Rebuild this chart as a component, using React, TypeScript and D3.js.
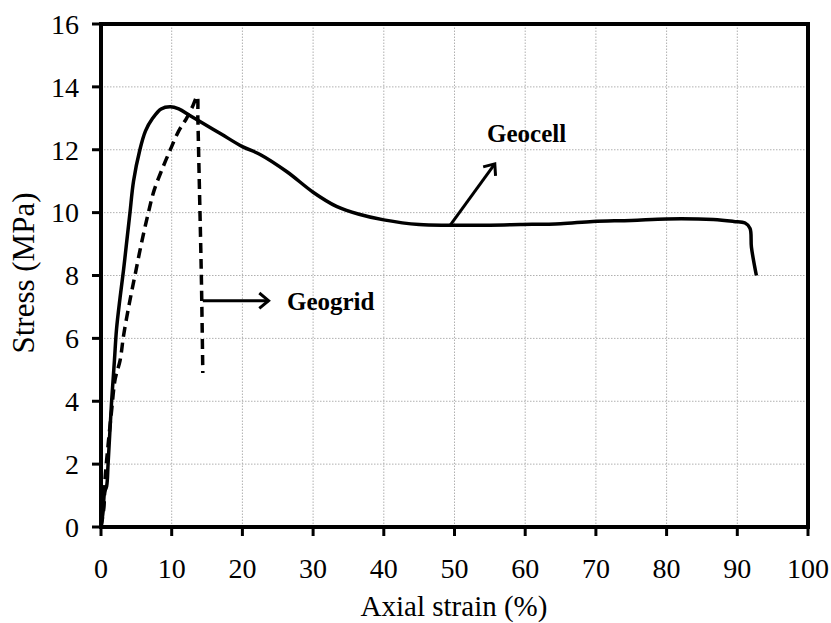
import React from 'react';
import * as d3 from 'd3';

// Geocell (solid line)
const geocellStrain = [0, 0.3, 0.5, 0.8, 1.0, 1.5, 1.9, 2.2, 2.7, 3.2, 3.6, 4.1, 4.6, 5.5, 6.3, 7.3, 8.5, 9.8, 11.0, 12.5, 14.0, 17.0, 20.0, 22.5, 26.3, 30.0, 33.3, 36.5, 40.0, 45.0, 49.4, 55.0, 59.3, 65.0, 69.6, 75.0, 80.0, 86.6, 89.5, 91.1, 91.8, 92.0, 92.7];
const geocellStress = [0, 0.5, 1.1, 1.3, 2.0, 4.0, 5.3, 6.3, 7.3, 8.2, 9.0, 10.0, 11.0, 12.0, 12.6, 13.0, 13.3, 13.37, 13.3, 13.1, 12.9, 12.5, 12.1, 11.85, 11.3, 10.65, 10.2, 9.95, 9.77, 9.62, 9.6, 9.6, 9.62, 9.65, 9.72, 9.75, 9.8, 9.78, 9.72, 9.67, 9.5, 8.9, 8.0];

// Geogrid (dashed line)
const geogridStrain = [0, 0.4, 0.6, 1.0, 1.5, 2.0, 2.7, 3.2, 4.0, 4.8, 5.7, 6.7, 7.5, 8.5, 9.8, 11.0, 12.1, 13.0, 13.6, 13.7, 13.8, 13.9, 14.0, 14.1, 14.2, 14.3, 14.4];
const geogridStress = [0, 0.6, 1.6, 2.6, 3.7, 4.7, 5.3, 6.1, 7.1, 8.0, 9.0, 10.0, 10.7, 11.3, 12.0, 12.6, 13.0, 13.4, 13.7, 13.0, 12.0, 11.0, 10.0, 9.0, 7.9, 6.5, 4.9];

const xTicks = [0, 10, 20, 30, 40, 50, 60, 70, 80, 90, 100];
const yTicks = [0, 2, 4, 6, 8, 10, 12, 14, 16];

const W = 831;
const H = 623;
const margin = { top: 24, right: 23, bottom: 96, left: 101 };
const font = '"Liberation Serif", "Times New Roman", serif';

const x = d3.scaleLinear().domain([0, 100]).range([margin.left, W - margin.right]);
const y = d3.scaleLinear().domain([0, 16]).range([H - margin.bottom, margin.top]);

const line = d3.line<[number, number]>()
  .curve(d3.curveCatmullRom.alpha(0.5))
  .x(d => x(d[0]))
  .y(d => y(d[1]));

const zip = (a: number[], b: number[]) => a.map((v, i) => [v, b[i]] as [number, number]);

// open chevron arrow from (x1,y1) to (x2,y2) in data units
const Arrow = ({ from, to }: { from: [number, number]; to: [number, number] }) => {
  const x1 = x(from[0]), y1 = y(from[1]), x2 = x(to[0]), y2 = y(to[1]);
  const ang = Math.atan2(y2 - y1, x2 - x1);
  const len = 12;
  const a1 = ang + Math.PI * 0.78, a2 = ang - Math.PI * 0.78;
  const head = `M${x2 + len * Math.cos(a1)},${y2 + len * Math.sin(a1)}L${x2},${y2}L${x2 + len * Math.cos(a2)},${y2 + len * Math.sin(a2)}`;
  return (
    <g stroke="#000" strokeWidth={3} fill="none">
      <line x1={x1} y1={y1} x2={x2} y2={y2} />
      <path d={head} />
    </g>
  );
};

export default function App() {
  const x0 = x(0), x1 = x(100), y0 = y(0), y1 = y(16);
  return (
    <svg width={W} height={H} style={{ position: 'absolute', left: 0, top: 0, background: '#fff' }}>
      {/* grid */}
      <g stroke="#b0b0b0" strokeWidth={1} strokeDasharray="1.5,1.5">
        {xTicks.slice(1, -1).map(t => <line key={'gx' + t} x1={x(t)} x2={x(t)} y1={y0} y2={y1} />)}
        {yTicks.slice(1, -1).map(t => <line key={'gy' + t} x1={x0} x2={x1} y1={y(t)} y2={y(t)} />)}
      </g>

      {/* curves */}
      <path d={line(zip(geocellStrain, geocellStress)) || ''} fill="none" stroke="#000" strokeWidth={3.5} strokeLinejoin="round" />
      <path d={line(zip(geogridStrain, geogridStress)) || ''} fill="none" stroke="#000" strokeWidth={3.5} strokeDasharray="10,6" />

      {/* frame */}
      <rect x={x0} y={y1} width={x1 - x0} height={y0 - y1} fill="none" stroke="#000" strokeWidth={4} />

      {/* ticks */}
      <g stroke="#000" strokeWidth={3}>
        {xTicks.map(t => <line key={'tx' + t} x1={x(t)} x2={x(t)} y1={y0} y2={y0 + 9} />)}
        {yTicks.map(t => <line key={'ty' + t} x1={x0 - 9} x2={x0} y1={y(t)} y2={y(t)} />)}
      </g>

      {/* tick labels */}
      <g fontFamily={font} fontSize={28} fill="#000">
        {xTicks.map(t => <text key={'lx' + t} x={x(t)} y={578} textAnchor="middle">{t}</text>)}
        {yTicks.map(t => <text key={'ly' + t} x={79} y={y(t)} dy="0.35em" textAnchor="end">{t}</text>)}
      </g>

      {/* axis titles */}
      <text x={454} y={616} textAnchor="middle" fontFamily={font} fontSize={29}>Axial strain (%)</text>
      <text transform={`translate(34,${273}) rotate(-90)`} textAnchor="middle" fontFamily={font} fontSize={31}>Stress (MPa)</text>

      {/* annotations */}
      <Arrow from={[14.4, 7.2]} to={[23.7, 7.2]} />
      <text x={x(26.3)} y={y(6.9)} fontFamily={font} fontWeight="bold" fontSize={25}>Geogrid</text>
      <Arrow from={[49.4, 9.6]} to={[55.7, 11.55]} />
      <text x={x(54.6)} y={y(12.24)} fontFamily={font} fontWeight="bold" fontSize={25}>Geocell</text>
    </svg>
  );
}
